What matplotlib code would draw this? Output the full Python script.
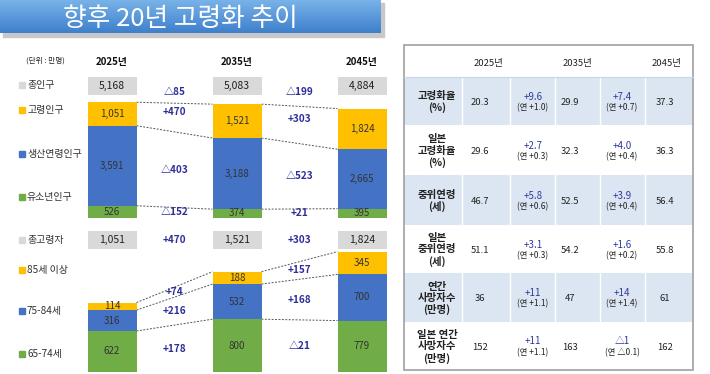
import matplotlib
matplotlib.use("Agg")
import matplotlib.pyplot as plt
import numpy as np
from matplotlib.colors import LinearSegmentedColormap
from matplotlib.patches import Rectangle

plt.rcParams['font.family'] = ['Noto Sans CJK KR', 'DejaVu Sans']

W, H = 710, 374

# --- data -------------------------------------------------------------
years = ['2025년', '2035년', '2045년']

total_pop = [5168, 5083, 4884]
youth_pop = [526, 374, 395]
working_pop = [3591, 3188, 2665]
elderly_pop = [1051, 1521, 1824]

elderly_total = [1051, 1521, 1824]
age_65_74 = [622, 800, 779]
age_75_84 = [316, 532, 700]
age_85_plus = [114, 188, 345]

table_labels = ['고령화율\n(%)', '일본\n고령화율\n(%)', '중위연령\n(세)',
                '일본\n중위연령\n(세)', '연간\n사망자수\n(만명)', '일본 연간\n사망자수\n(만명)']
vals_2025 = ['20.3', '29.6', '46.7', '51.1', '36', '152']
vals_2035 = ['29.9', '32.3', '52.5', '54.2', '47', '163']
vals_2045 = ['37.3', '36.3', '56.4', '55.8', '61', '162']
diff_1 = ['+9.6', '+2.7', '+5.8', '+3.1', '+11', '+11']
diff_1_year = ['(연 +1.0)', '(연 +0.3)', '(연 +0.6)', '(연 +0.3)', '(연 +1.1)', '(연 +1.1)']
diff_2 = ['+7.4', '+4.0', '+3.9', '+1.6', '+14', '△1']
diff_2_year = ['(연 +0.7)', '(연 +0.4)', '(연 +0.4)', '(연 +0.2)', '(연 +1.4)', '(연 △0.1)']

YELLOW = '#FFC000'
BLUE = '#4472C4'
GREEN = '#70AD47'
GRAY = '#D9D9D9'
NAVY = '#2E2E9A'
TXT = '#333333'


def fmt_change(v):
    return f'+{v:,}' if v >= 0 else f'△{-v:,}'


def px_rect(left, top, right, bottom):
    return [left / W, 1 - bottom / H, (right - left) / W, (bottom - top) / H]


fig = plt.figure(figsize=(W / 100, H / 100), dpi=100)

# overlay in pixel coordinates for banner, legend and table
ov = fig.add_axes([0, 0, 1, 1])
ov.set_axis_off()

# title banner
ov.add_patch(Rectangle((3, 3), 381, 34, color='#C8C8C8', zorder=0))
cmap = LinearSegmentedColormap.from_list('banner', ['#78B2E8', '#3F80CC'])
ov.imshow(np.linspace(0, 1, 50).reshape(-1, 1), cmap=cmap, extent=[0, 381, 33, 0],
          aspect='auto', zorder=1)
ov.text(180, 18.5, '향후 20년 고령화 추이', color='white', fontsize=18.5,
        fontweight='light', ha='center', va='center', zorder=2)
ov.set_xlim(0, W)
ov.set_ylim(H, 0)

# --- bar panels -------------------------------------------------------
X_LEFT, X_RIGHT = 50, 400
BAR_W = 0.392
x = np.arange(len(years))
x_lim = ((X_LEFT - 112) / 125, (X_RIGHT - 112) / 125)


def bar_panel(top_px, base_px, scale, layers, totals, label_offsets, total_label_px):
    ax = fig.add_axes(px_rect(X_LEFT, top_px, X_RIGHT, base_px))
    ax.set_xlim(*x_lim)
    ax.set_ylim(0, (base_px - top_px) / scale)
    ax.set_axis_off()
    ax.patch.set_alpha(0)

    def to_data(py):
        return (base_px - py) / scale

    bottom = np.zeros(len(years))
    for (vals, color), off in zip(layers, label_offsets):
        vals = np.array(vals)
        ax.bar(x, vals, BAR_W, bottom=bottom, color=color, zorder=2)
        centers = bottom + vals / 2
        tops = bottom + vals
        for i, v in enumerate(vals):
            ax.text(x[i], centers[i], f'{v:,}', ha='center', va='center',
                    fontsize=7, color=TXT, zorder=3)
        for i in range(len(years) - 1):
            ax.plot([x[i] + BAR_W / 2, x[i + 1] - BAR_W / 2], [tops[i], tops[i + 1]],
                    color='#555555', lw=0.7, dashes=(2, 1.5), zorder=1)
            ax.text(x[i] + 0.5, (centers[i] + centers[i + 1]) / 2 - off / scale,
                    fmt_change(int(vals[i + 1] - vals[i])), ha='center', va='center',
                    fontsize=7.2, color=NAVY, fontweight='bold')
        bottom = tops

    # total boxes
    b0, b1 = to_data(total_label_px + 9), to_data(total_label_px - 9)
    ax.bar(x, b1 - b0, BAR_W, bottom=b0, color=GRAY, zorder=2)
    for i, v in enumerate(totals):
        ax.text(x[i], (b0 + b1) / 2, f'{v:,}', ha='center', va='center',
                fontsize=7.5, color='#222222', zorder=3)
    return ax, to_data


ax_top, top_y = bar_panel(60, 217.5, 0.0223,
                          [(youth_pop, GREEN), (working_pop, BLUE), (elderly_pop, YELLOW)],
                          total_pop, [0, 0, -6], 86)
for i in range(len(years) - 1):
    ax_top.text(x[i] + 0.5, top_y(92), fmt_change(total_pop[i + 1] - total_pop[i]),
                ha='center', va='center', fontsize=7.2, color=NAVY, fontweight='bold')
for i, yr in enumerate(years):
    ax_top.text(x[i], top_y(62), yr, ha='center', va='center', fontsize=7,
                fontweight='bold', color='#111111')

ax_bot, bot_y = bar_panel(225, 372, 0.066,
                          [(age_65_74, GREEN), (age_75_84, BLUE), (age_85_plus, YELLOW)],
                          elderly_total, [0, 0, 0], 240)
for i in range(len(years) - 1):
    ax_bot.text(x[i] + 0.5, bot_y(240), fmt_change(elderly_total[i + 1] - elderly_total[i]),
                ha='center', va='center', fontsize=7.2, color=NAVY, fontweight='bold')

# legend on the left
ov.text(45, 61, '(단위 : 만명)', ha='center', va='center', fontsize=5.5, color='#222222')
legend_items = [('총인구', GRAY, 85), ('고령인구', YELLOW, 110), ('생산연령인구', BLUE, 154),
                ('유소년인구', GREEN, 197), ('총고령자', GRAY, 240), ('85세 이상', YELLOW, 270),
                ('75-84세', BLUE, 311), ('65-74세', GREEN, 354)]
for name, color, py in legend_items:
    ov.add_patch(Rectangle((19, py - 3), 6, 6, color=color))
    ov.text(27, py, name, ha='left', va='center', fontsize=7.2, color='#333333')

# --- table ------------------------------------------------------------
T_L, T_R, T_T, T_B = 404, 693, 45, 370
row_edges = [77, 125, 175, 225, 273, 322, 370]
col_x = [437, 480, 533, 570, 622, 665]
sep_x = [462, 510, 555, 600, 645]

for r in range(len(table_labels)):
    y0, y1 = row_edges[r], row_edges[r + 1]
    if r % 2 == 0:
        ov.add_patch(Rectangle((T_L, y0), T_R - T_L, y1 - y0, color='#DCE6F2', lw=0))
        for sx in sep_x:
            ov.plot([sx, sx], [y0, y1], color='white', lw=1)
    yc = (y0 + y1) / 2 + 1
    ov.text(col_x[0], yc, table_labels[r], ha='center', va='center', fontsize=7.5,
            fontweight='bold', color='#222222', linespacing=1.15)
    for cx, vals in zip([col_x[1], col_x[3], col_x[5]], [vals_2025, vals_2035, vals_2045]):
        ov.text(cx, yc, vals[r], ha='center', va='center', fontsize=6.8, color='#222222')
    for cx, top, sub in [(col_x[2], diff_1, diff_1_year), (col_x[4], diff_2, diff_2_year)]:
        ov.text(cx, yc - 5.5, top[r], ha='center', va='center', fontsize=7, color='#2E3AA0')
        ov.text(cx, yc + 5.5, sub[r], ha='center', va='center', fontsize=6, color='#222222')

ov.plot([T_L, T_R], [row_edges[0], row_edges[0]], color='#C5D7EC', lw=0.8)
for hx, yr in zip([488, 577, 667], years):
    ov.text(hx, 63, yr, ha='center', va='center', fontsize=6.8, color='#222222')
ov.add_patch(Rectangle((T_L, T_T), T_R - T_L, T_B - T_T, fill=False,
                       edgecolor='#A0A0A0', lw=1.2))

fig.savefig('out.png', dpi=100)
